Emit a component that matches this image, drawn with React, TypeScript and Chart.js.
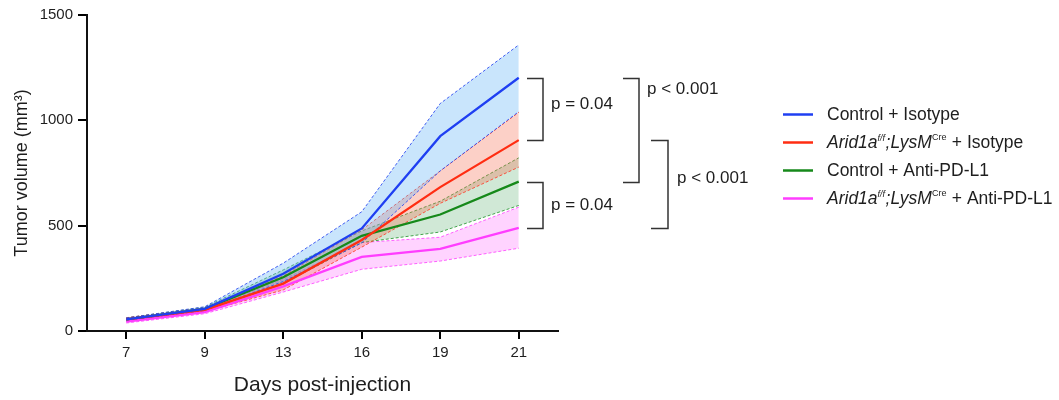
import React, { useEffect, useRef } from 'react';
import { Chart, registerables } from 'chart.js';

Chart.register(...registerables);

const days = ['7', '9', '13', '16', '19', '21'];
const yTickValues = [0, 500, 1000, 1500];

const ctrlIsoMean = [55, 105, 272, 487, 925, 1202];
const ctrlIsoUpper = [62, 115, 322, 566, 1080, 1358];
const ctrlIsoLower = [48, 97, 235, 418, 760, 1041];

const aridIsoMean = [55, 100, 225, 432, 683, 906];
const aridIsoUpper = [63, 110, 262, 480, 760, 1038];
const aridIsoLower = [48, 92, 195, 398, 606, 778];

const ctrlPdMean = [55, 105, 255, 452, 553, 709];
const ctrlPdUpper = [62, 113, 290, 475, 616, 822];
const ctrlPdLower = [48, 97, 225, 420, 470, 596];

const aridPdMean = [45, 90, 212, 352, 390, 490];
const aridPdUpper = [52, 98, 245, 420, 445, 588];
const aridPdLower = [38, 82, 185, 293, 332, 393];

const seriesNames = [
  'Control + Isotype',
  'Arid1af/f;LysMCre + Isotype',
  'Control + Anti-PD-L1',
  'Arid1af/f;LysMCre + Anti-PD-L1',
];

type Seg = { text: string; italic?: boolean; sup?: boolean };
const legendSegments: Seg[][] = [
  [{ text: 'Control + Isotype' }],
  [
    { text: 'Arid1a', italic: true },
    { text: 'f/f', italic: true, sup: true },
    { text: ';', italic: true },
    { text: 'LysM', italic: true },
    { text: 'Cre', sup: true },
    { text: ' + Isotype' },
  ],
  [{ text: 'Control + Anti-PD-L1' }],
  [
    { text: 'Arid1a', italic: true },
    { text: 'f/f', italic: true, sup: true },
    { text: ';', italic: true },
    { text: 'LysM', italic: true },
    { text: 'Cre', sup: true },
    { text: ' + Anti-PD-L1' },
  ],
];

const comparisons = [
  { a: 0, b: 1, label: 'p = 0.04' },
  { a: 2, b: 3, label: 'p = 0.04' },
  { a: 0, b: 2, label: 'p < 0.001' },
  { a: 1, b: 3, label: 'p < 0.001' },
];

const FONT = "'Liberation Sans', Arial, Helvetica, sans-serif";

const lineColors = ['#1f3ff2', '#ff2d12', '#16891a', '#ff3dff'];
const dashColors = ['rgba(40,70,240,0.85)', 'rgba(255,60,40,0.85)', 'rgba(40,150,50,0.85)', 'rgba(255,70,255,0.85)'];
const fillColors = ['rgba(100,180,245,0.35)', 'rgba(245,100,70,0.3)', 'rgba(40,150,70,0.22)', 'rgba(255,80,255,0.25)'];

export default function App() {
  const ref = useRef<HTMLCanvasElement>(null);

  useEffect(() => {
    const canvas = ref.current;
    if (!canvas) return;

    const means = [ctrlIsoMean, aridIsoMean, ctrlPdMean, aridPdMean];
    const uppers = [ctrlIsoUpper, aridIsoUpper, ctrlPdUpper, aridPdUpper];
    const lowers = [ctrlIsoLower, aridIsoLower, ctrlPdLower, aridPdLower];

    const datasets: any[] = [];
    for (let i = 0; i < 4; i++) {
      datasets.push({
        label: seriesNames[i] + ' upper',
        data: uppers[i],
        borderColor: dashColors[i],
        borderWidth: 1,
        borderDash: [3, 2],
        pointRadius: 0,
        fill: false,
        order: 1,
      });
      datasets.push({
        label: seriesNames[i] + ' lower',
        data: lowers[i],
        borderColor: dashColors[i],
        borderWidth: 1,
        borderDash: [3, 2],
        pointRadius: 0,
        fill: '-1',
        backgroundColor: fillColors[i],
        order: 1,
      });
    }
    for (let i = 0; i < 4; i++) {
      datasets.push({
        label: seriesNames[i],
        data: means[i],
        borderColor: lineColors[i],
        borderWidth: 2.3,
        pointRadius: 0,
        fill: false,
        order: 0,
      });
    }

    const annot = {
      id: 'annot',
      afterDraw(chart: any) {
        const ctx = chart.ctx as CanvasRenderingContext2D;
        const ys = chart.scales.y;
        const last = days.length - 1;
        const py = (i: number) => ys.getPixelForValue(means[i][last]);
        ctx.save();
        const geo = [
          { x0: 527, x1: 543, lx: 551, ly: (t: number, b: number) => (t + b) / 2 - 5 },
          { x0: 527, x1: 543, lx: 551, ly: (t: number, b: number) => (t + b) / 2 },
          { x0: 623, x1: 639, lx: 647, ly: (t: number) => t + 11 },
          { x0: 651, x1: 668, lx: 677, ly: (t: number, b: number) => (t + b) / 2 - 6 },
        ];
        ctx.strokeStyle = '#333';
        ctx.lineWidth = 1.5;
        ctx.fillStyle = '#1e1e1e';
        ctx.font = `17px ${FONT}`;
        ctx.textBaseline = 'middle';
        ctx.textAlign = 'left';
        comparisons.forEach((c, k) => {
          const g = geo[k];
          const t = Math.round(py(c.a)) + 0.5;
          const b = Math.round(py(c.b)) + 0.5;
          ctx.beginPath();
          ctx.moveTo(g.x0, t);
          ctx.lineTo(g.x1, t);
          ctx.lineTo(g.x1, b);
          ctx.lineTo(g.x0, b);
          ctx.stroke();
          ctx.fillText(c.label, g.lx, g.ly(t, b));
        });

        const rowY = [114.5, 142.5, 170.5, 198.5];
        legendSegments.forEach((segs, i) => {
          const y = rowY[i];
          ctx.strokeStyle = lineColors[i];
          ctx.lineWidth = 2.5;
          ctx.beginPath();
          ctx.moveTo(783, y);
          ctx.lineTo(813, y);
          ctx.stroke();
          let x = 827;
          ctx.fillStyle = '#1e1e1e';
          for (const s of segs) {
            const size = s.sup ? 9 : 17.5;
            ctx.font = `${s.italic ? 'italic ' : ''}${size}px ${FONT}`;
            ctx.fillText(s.text, x, s.sup ? y - 4.5 : y + 1);
            x += ctx.measureText(s.text).width + (s.sup ? 0.5 : 0);
          }
        });
        ctx.restore();
      },
    };

    const chart = new Chart(canvas, {
      type: 'line',
      data: { labels: days, datasets },
      plugins: [annot],
      options: {
        animation: false,
        responsive: false,
        devicePixelRatio: 1,
        layout: { padding: { left: 0, right: 501, top: 15, bottom: 0 } },
        plugins: { legend: { display: false }, tooltip: { enabled: false } },
        elements: { line: { tension: 0 } },
        scales: {
          x: {
            type: 'category',
            offset: true,
            afterFit: (s: any) => {
              s.height = 69;
            },
            grid: {
              offset: false,
              drawOnChartArea: false,
              drawTicks: true,
              tickLength: 8,
              color: '#000',
              lineWidth: 2,
            },
            border: { display: true, color: '#111', width: 2 },
            ticks: { color: '#1e1e1e', font: { family: FONT, size: 15 }, padding: 5, maxRotation: 0 },
            title: {
              display: true,
              text: 'Days post-injection',
              color: '#1e1e1e',
              font: { family: FONT, size: 21 },
              padding: { top: 0, bottom: 2 },
            },
          },
          y: {
            min: 0,
            max: 1500,
            afterFit: (s: any) => {
              s.width = 87;
            },
            afterBuildTicks: (s: any) => {
              s.ticks = yTickValues.map((v) => ({ value: v }));
            },
            grid: {
              drawOnChartArea: false,
              drawTicks: true,
              tickLength: 9,
              color: '#000',
              lineWidth: 2,
            },
            border: { display: true, color: '#111', width: 2 },
            ticks: {
              color: '#1e1e1e',
              font: { family: FONT, size: 15 },
              padding: 5,
              callback: (v: any) => String(v),
            },
            title: {
              display: true,
              text: 'Tumor volume (mm³)',
              color: '#1e1e1e',
              font: { family: FONT, size: 18 },
              padding: { top: 11, bottom: 0 },
            },
          },
        },
      } as any,
    });

    return () => chart.destroy();
  }, []);

  return (
    <div style={{ position: 'absolute', left: 0, top: 0, width: 1059, height: 400, background: '#fff' }}>
      <canvas ref={ref} width={1059} height={400} style={{ display: 'block', width: 1059, height: 400 }} />
    </div>
  );
}
